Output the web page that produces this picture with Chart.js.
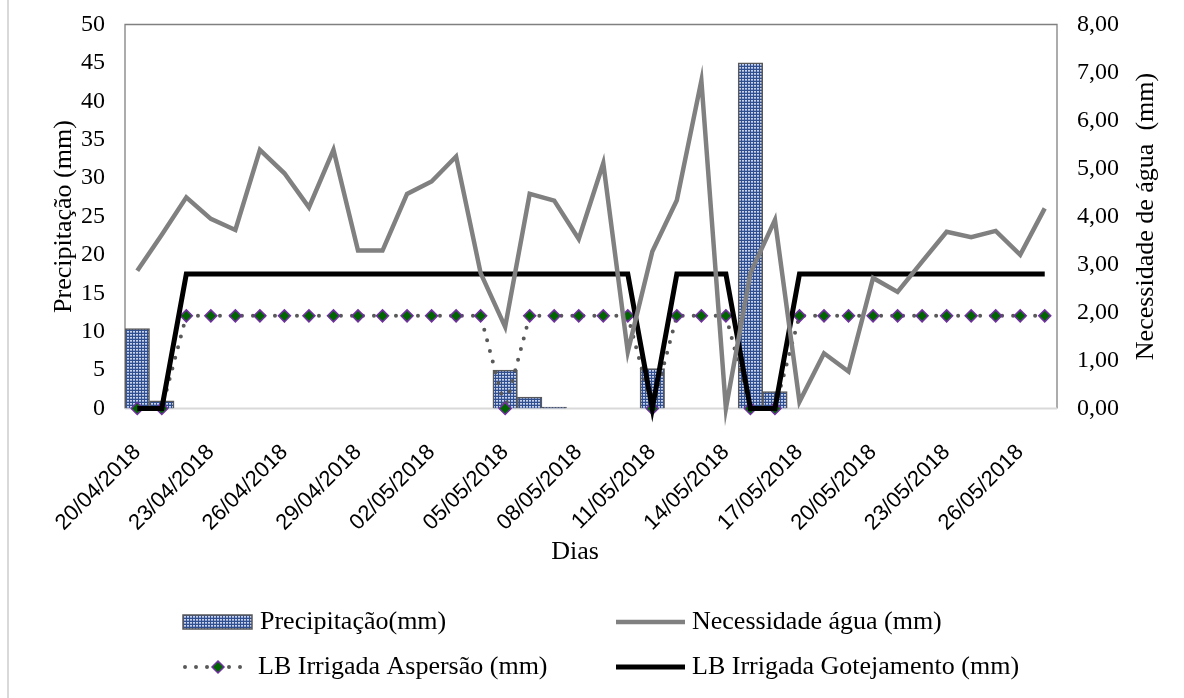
<!DOCTYPE html>
<html>
<head>
<meta charset="utf-8">
<script src="https://cdn.jsdelivr.net/npm/chart.js@4.4.1/dist/chart.umd.min.js"></script>
<style>
  html, body { margin: 0; padding: 0; background: #fff; }
  #wrap { position: relative; width: 1184px; height: 698px; }
  #wrap .borda { position: absolute; left: 7px; top: 0; width: 2px; height: 698px; background: #d9d9d9; }
</style>
</head>
<body>
<div id="wrap">
  <div class="borda"></div>
  <canvas id="rainChart" width="1184" height="698"></canvas>
</div>
<script>
// Dias de observação
const dias = [
  '20/04/2018', '21/04/2018', '22/04/2018', '23/04/2018', '24/04/2018', '25/04/2018',
  '26/04/2018', '27/04/2018', '28/04/2018', '29/04/2018', '30/04/2018', '01/05/2018',
  '02/05/2018', '03/05/2018', '04/05/2018', '05/05/2018', '06/05/2018', '07/05/2018',
  '08/05/2018', '09/05/2018', '10/05/2018', '11/05/2018', '12/05/2018', '13/05/2018',
  '14/05/2018', '15/05/2018', '16/05/2018', '17/05/2018', '18/05/2018', '19/05/2018',
  '20/05/2018', '21/05/2018', '22/05/2018', '23/05/2018', '24/05/2018', '25/05/2018',
  '26/05/2018', '27/05/2018'
];

// Precipitação diária (mm) - eixo esquerdo
const precipitacao = [
  10.4, 1.0, 0, 0, 0, 0, 0, 0, 0, 0, 0, 0, 0, 0, 0,
  5.0, 1.5, 0.2, 0, 0, 0, 5.2, 0, 0, 0, 45.0, 2.2,
  0, 0, 0, 0, 0, 0, 0, 0, 0, 0, 0
];

// Necessidade de água (mm) - eixo direito
const necessidade = [
  2.87, 3.62, 4.40, 3.95, 3.72, 5.39, 4.90, 4.19, 5.39, 3.29, 3.29, 4.47, 4.73,
  5.25, 2.82, 1.70, 4.47, 4.33, 3.53, 5.11, 1.18, 3.27, 4.34, 6.83, 0.00, 2.82,
  3.93, 0.14, 1.15, 0.77, 2.72, 2.43, 3.06, 3.68, 3.57, 3.70, 3.20, 4.17
];

// Lâminas brutas irrigadas (mm) - eixo direito
const lbAspersao = [
  0, 0, 1.93, 1.93, 1.93, 1.93, 1.93, 1.93, 1.93, 1.93, 1.93, 1.93, 1.93, 1.93, 1.93,
  0, 1.93, 1.93, 1.93, 1.93, 1.93, 0, 1.93, 1.93, 1.93, 0, 0,
  1.93, 1.93, 1.93, 1.93, 1.93, 1.93, 1.93, 1.93, 1.93, 1.93, 1.93
];
const lbGotejamento = [
  0, 0, 2.8, 2.8, 2.8, 2.8, 2.8, 2.8, 2.8, 2.8, 2.8, 2.8, 2.8, 2.8, 2.8,
  2.8, 2.8, 2.8, 2.8, 2.8, 2.8, 0, 2.8, 2.8, 2.8, 0, 0,
  2.8, 2.8, 2.8, 2.8, 2.8, 2.8, 2.8, 2.8, 2.8, 2.8, 2.8
];

const SERIF = '"Liberation Serif", "Times New Roman", serif';
const SANS = '"Liberation Sans", Arial, sans-serif';

// Textura pontilhada das barras
function makePattern() {
  const c = document.createElement('canvas');
  c.width = 3; c.height = 3;
  const g = c.getContext('2d');
  g.fillStyle = '#304f90';
  g.fillRect(0, 0, 3, 3);
  g.fillStyle = '#c8d3ea';
  g.fillRect(1, 1, 2, 1);
  g.fillStyle = '#94a6cf';
  g.fillRect(1, 2, 2, 1);
  return g.createPattern(c, 'repeat');
}
const barFill = makePattern();

function virgula(v, casas) {
  return v.toFixed(casas).replace('.', ',');
}

// eixos verticais sem folga extra acima/abaixo da área do gráfico
function fixarEixoY(largura) {
  return s => {
    s.width = largura;
    s.paddingTop = 0;
    s.paddingBottom = 0;
  };
}

// Moldura, títulos dos eixos e legenda
const extras = {
  id: 'extras',
  beforeDatasetsDraw(chart) {
    const { ctx, chartArea: a } = chart;
    ctx.save();
    ctx.strokeStyle = '#808080';
    ctx.lineWidth = 1.3;
    ctx.beginPath();
    ctx.moveTo(a.left, a.bottom);
    ctx.lineTo(a.left, a.top);
    ctx.lineTo(a.right, a.top);
    ctx.lineTo(a.right, a.bottom);
    ctx.stroke();
    ctx.strokeStyle = '#d9d9d9';
    ctx.lineWidth = 2;
    ctx.beginPath();
    ctx.moveTo(a.left, a.bottom);
    ctx.lineTo(a.right, a.bottom);
    ctx.stroke();
    ctx.restore();
  },
  afterDraw(chart) {
    const { ctx, chartArea: a } = chart;
    const midY = (a.top + a.bottom) / 2;
    ctx.save();
    ctx.fillStyle = '#000';
    ctx.font = '26px ' + SERIF;
    ctx.textAlign = 'center';
    ctx.textBaseline = 'middle';

    ctx.save();
    ctx.translate(64, midY);
    ctx.rotate(-Math.PI / 2);
    ctx.fillText('Precipitação (mm)', 0, 0);
    ctx.restore();

    ctx.save();
    ctx.translate(1146, midY);
    ctx.rotate(-Math.PI / 2);
    ctx.fillText('Necessidade de água  (mm)', 0, 0);
    ctx.restore();

    ctx.fillText('Dias', 575, 552);

    // legenda em duas colunas
    ctx.textAlign = 'left';
    const y1 = 622, y2 = 667;
    const c1 = 183, c2 = 616;

    ctx.fillStyle = barFill;
    ctx.fillRect(c1, y1 - 7, 69, 14);
    ctx.strokeStyle = '#595959';
    ctx.lineWidth = 1.5;
    ctx.strokeRect(c1, y1 - 7, 69, 14);

    ctx.strokeStyle = '#808080';
    ctx.lineWidth = 4.5;
    ctx.beginPath();
    ctx.moveTo(c2, y1);
    ctx.lineTo(c2 + 69, y1);
    ctx.stroke();

    ctx.strokeStyle = '#595959';
    ctx.lineWidth = 4;
    ctx.lineCap = 'round';
    ctx.setLineDash([0, 11]);
    ctx.beginPath();
    ctx.moveTo(c1 + 2, y2);
    ctx.lineTo(c1 + 66, y2);
    ctx.stroke();
    ctx.setLineDash([]);
    ctx.lineCap = 'butt';
    ctx.fillStyle = '#006400';
    ctx.strokeStyle = '#7030a0';
    ctx.lineWidth = 1.5;
    ctx.beginPath();
    ctx.moveTo(c1 + 35, y2 - 6);
    ctx.lineTo(c1 + 41, y2);
    ctx.lineTo(c1 + 35, y2 + 6);
    ctx.lineTo(c1 + 29, y2);
    ctx.closePath();
    ctx.fill();
    ctx.stroke();

    ctx.strokeStyle = '#000';
    ctx.lineWidth = 5;
    ctx.beginPath();
    ctx.moveTo(c2, y2);
    ctx.lineTo(c2 + 69, y2);
    ctx.stroke();

    ctx.fillStyle = '#000';
    ctx.fillText('Precipitação(mm)', c1 + 77, y1);
    ctx.fillText('Necessidade água (mm)', c2 + 76, y1);
    ctx.fillText('LB Irrigada Aspersão (mm)', c1 + 75, y2);
    ctx.fillText('LB Irrigada Gotejamento (mm)', c2 + 76, y2);
    ctx.restore();
  }
};

const ctx = document.getElementById('rainChart').getContext('2d');
const chart = new Chart(ctx, {
  type: 'bar',
  data: {
    labels: dias,
    datasets: [
      {
        type: 'bar',
        label: 'Precipitação(mm)',
        data: precipitacao,
        yAxisID: 'y',
        backgroundColor: barFill,
        borderColor: '#595959',
        borderWidth: 1.5,
        barPercentage: 1,
        categoryPercentage: 1,
        order: 4
      },
      {
        type: 'line',
        label: 'LB Irrigada Aspersão (mm)',
        data: lbAspersao,
        yAxisID: 'y1',
        borderColor: '#595959',
        borderWidth: 4,
        borderDash: [0, 11],
        borderCapStyle: 'round',
        pointStyle: 'rectRot',
        pointRadius: 6,
        pointBackgroundColor: '#006400',
        pointBorderColor: '#7030a0',
        pointBorderWidth: 1.5,
        tension: 0,
        clip: false,
        order: 3
      },
      {
        type: 'line',
        label: 'LB Irrigada Gotejamento (mm)',
        data: lbGotejamento,
        yAxisID: 'y1',
        borderColor: '#000',
        borderWidth: 5,
        pointRadius: 0,
        tension: 0,
        clip: false,
        order: 2
      },
      {
        type: 'line',
        label: 'Necessidade água (mm)',
        data: necessidade,
        yAxisID: 'y1',
        borderColor: '#808080',
        borderWidth: 4.5,
        pointRadius: 0,
        tension: 0,
        clip: false,
        order: 1
      }
    ]
  },
  options: {
    responsive: false,
    animation: false,
    layout: { padding: { top: 24.5, left: 0, right: 0, bottom: 0 } },
    plugins: {
      legend: { display: false },
      tooltip: { enabled: false }
    },
    scales: {
      x: {
        grid: { display: false, drawTicks: false },
        border: { display: false },
        ticks: {
          autoSkip: false,
          minRotation: 45,
          maxRotation: 45,
          padding: 31,
          color: '#000',
          font: { family: SANS, size: 22 },
          callback: (v, i) => (i % 3 === 0 ? dias[i] : '')
        },
        afterFit: s => { s.height = 289.5; }
      },
      y: {
        position: 'left',
        min: 0,
        max: 50,
        grid: { display: false, drawTicks: false },
        border: { display: false },
        ticks: {
          stepSize: 5,
          padding: 20,
          color: '#000',
          font: { family: SERIF, size: 24 }
        },
        afterFit: fixarEixoY(125)
      },
      y1: {
        position: 'right',
        min: 0,
        max: 8,
        grid: { display: false, drawTicks: false },
        border: { display: false },
        ticks: {
          stepSize: 1,
          padding: 20,
          color: '#000',
          font: { family: SERIF, size: 24 },
          callback: v => virgula(v, 2)
        },
        afterFit: fixarEixoY(127)
      }
    }
  },
  plugins: [extras]
});
</script>
</body>
</html>
